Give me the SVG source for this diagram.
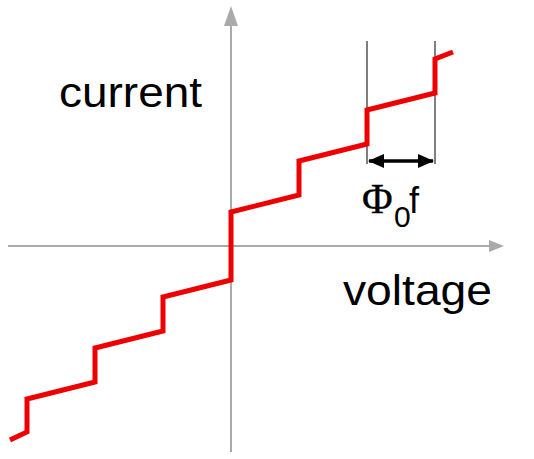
<svg xmlns="http://www.w3.org/2000/svg" width="534" height="459" viewBox="0 0 534 459">
<style>
.axis{stroke:#aaaaaa;stroke-width:2;fill:none}
.ahead{fill:#aaaaaa}
.curve{stroke:#ee0000;stroke-width:5;fill:none;stroke-linejoin:miter}
.guide{stroke:#000;stroke-width:1;fill:none}
.lbl{font-family:"Liberation Sans",Arial,sans-serif;fill:#000}
</style>
<defs>
<marker id="dh" viewBox="0 0 16 14" refX="15" refY="7" markerWidth="16" markerHeight="14" markerUnits="userSpaceOnUse" orient="auto-start-reverse">
<path d="M0,0 L16,7 L0,14 Z" fill="#000"/>
</marker>
</defs>
<g id="connectors">
<line class="axis" x1="231" y1="24" x2="231" y2="452"/>
<polygon class="ahead" points="231,6 224,26 238,26"/>
<line class="axis" x1="8" y1="246" x2="490" y2="246"/>
<polygon class="ahead" points="504,246 489,240 489,252"/>
<line class="guide" x1="367" y1="41" x2="367" y2="164"/>
<line class="guide" x1="435" y1="41" x2="435" y2="164"/>
<line x1="369" y1="161" x2="433" y2="161" stroke="#000" stroke-width="3.5" marker-start="url(#dh)" marker-end="url(#dh)"/>
</g>
<g id="staircase">
<polyline class="curve" points="10,440 27,432 27,399 95,382 95,348 163,331 163,297 231,280 231,212 299,195 299,161 367,144 367,110 435,93 435,59 453,52"/>
</g>
<g id="label-current">
<text class="lbl" x="59" y="107" font-size="42" textLength="143" lengthAdjust="spacingAndGlyphs">current</text>
</g>
<g id="label-voltage">
<text class="lbl" x="343" y="305" font-size="42" textLength="149" lengthAdjust="spacingAndGlyphs">voltage</text>
</g>
<g id="label-phi">
<text class="lbl" fill="#000"><tspan x="362" y="213" font-family="Liberation Serif,'Times New Roman',serif" font-size="42" stroke="#000" stroke-width="0.3">Φ</tspan><tspan x="394" y="227" font-size="30">0</tspan><tspan x="409" y="213" font-size="36" font-weight="normal">f</tspan></text>
</g>
</svg>
